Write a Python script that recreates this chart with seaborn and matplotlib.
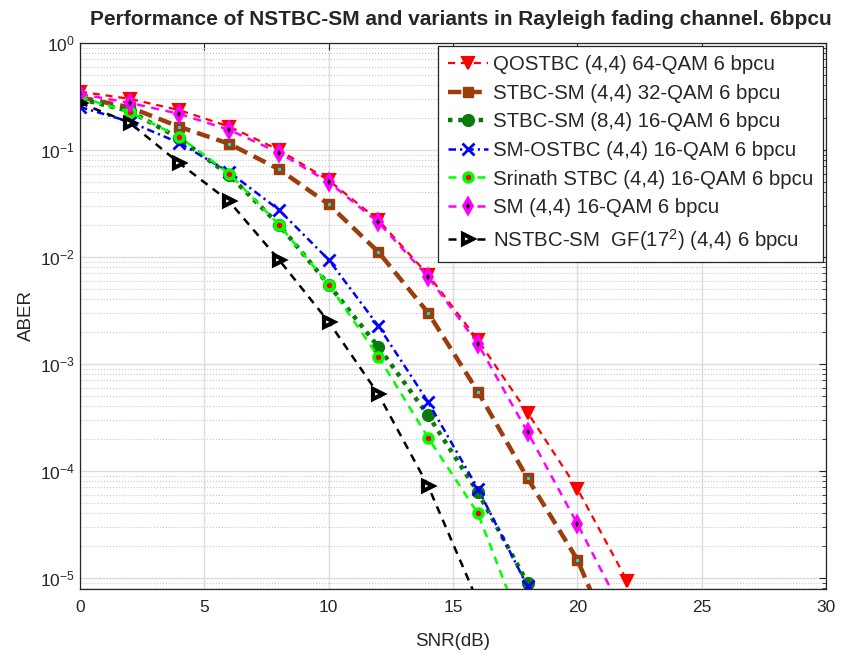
import numpy as np
import pandas as pd
import matplotlib
matplotlib.use("Agg")
import matplotlib.pyplot as plt
import seaborn as sns
from matplotlib.ticker import LogLocator, NullFormatter, MultipleLocator

sns.set_style("white")
plt.rcParams['font.family'] = ['Liberation Sans', 'DejaVu Sans']
plt.rcParams['mathtext.fontset'] = 'custom'
plt.rcParams['mathtext.rm'] = 'Liberation Sans'
plt.rcParams['mathtext.it'] = 'Liberation Sans:italic'

snr = [0, 2, 4, 6, 8, 10, 12, 14, 16, 18, 20, 22]

qostbc      = [0.35, 0.30, 0.235, 0.165, 0.10, 0.052, 0.022, 6.8e-3, 1.67e-3, 3.5e-4, 6.8e-5, 9.4e-6]
stbcsm_32   = [0.31, 0.25, 0.164, 0.114, 0.066, 0.031, 0.0111, 3.0e-3, 5.5e-4, 8.5e-5, 1.48e-5, 1.2e-6]
stbcsm_84   = [0.30, 0.23, 0.128, 0.058, 0.020, 5.5e-3, 1.44e-3, 3.3e-4, 6.3e-5, 8.9e-6]
sm_ostbc    = [0.252, 0.183, 0.116, 0.062, 0.0275, 9.4e-3, 2.26e-3, 4.4e-4, 6.8e-5, 8.3e-6]
srinath     = [0.31, 0.226, 0.132, 0.060, 0.020, 5.5e-3, 1.17e-3, 2.04e-4, 4.0e-5, 2.5e-6]
sm_16       = [0.333, 0.275, 0.217, 0.154, 0.094, 0.050, 0.021, 6.5e-3, 1.54e-3, 2.3e-4, 3.2e-5, 4e-6]
nstbc_sm    = [0.275, 0.179, 0.075, 0.033, 9.4e-3, 2.47e-3, 5.2e-4, 7.2e-5, 6e-6]

labels = [
    "QOSTBC (4,4) 64-QAM 6 bpcu",
    "STBC-SM (4,4) 32-QAM 6 bpcu",
    "STBC-SM (8,4) 16-QAM 6 bpcu",
    "SM-OSTBC (4,4) 16-QAM 6 bpcu",
    "Srinath STBC (4,4) 16-QAM 6 bpcu",
    "SM (4,4) 16-QAM 6 bpcu",
    "NSTBC-SM  GF(17$^2$) (4,4) 6 bpcu",
]
series = [qostbc, stbcsm_32, stbcsm_84, sm_ostbc, srinath, sm_16, nstbc_sm]

dash = (0, (3.2, 2.6))
styles = [
    dict(color='#ff0000', linestyle=dash, linewidth=1.6, marker='v', markersize=8,
         markerfacecolor='#ff0000', markeredgecolor='#ff0000', markeredgewidth=1.5),
    dict(color='#9c3d0c', linestyle=(0, (3.0, 1.6)), linewidth=3.2, marker='s', markersize=7,
         markerfacecolor='#9c3d0c', markeredgecolor='#9c3d0c', markeredgewidth=1),
    dict(color='#0a7a0a', linestyle=(0, (1, 1.3)), linewidth=3.2, marker='o', markersize=8.5,
         markerfacecolor='#0a7a0a', markeredgecolor='#0a7a0a', markeredgewidth=1),
    dict(color='#0000ff', linestyle=(0, (3, 1.6, 0.9, 1.6)), linewidth=1.8, marker='x', markersize=8,
         markerfacecolor='#0000ff', markeredgecolor='#0000ff', markeredgewidth=2),
    dict(color='#00ff00', linestyle=dash, linewidth=1.8, marker='o', markersize=6.5,
         markerfacecolor='#ff0000', markeredgecolor='#00ff00', markeredgewidth=2.5),
    dict(color='#ff00ff', linestyle=dash, linewidth=1.8, marker='d', markersize=7.5,
         markerfacecolor='black', markeredgecolor='#ff00ff', markeredgewidth=2.6),
    dict(color='black', linestyle=dash, linewidth=1.8, marker='>', markersize=6.5,
         markerfacecolor='white', markeredgecolor='black', markeredgewidth=3.0),
]

fig = plt.figure(figsize=(8.51, 6.6), dpi=100)
ax = fig.add_axes([0.094, 0.108, 0.8766, 0.827])
ax.set_yscale('log')

for lab, vals, st in zip(labels, series, styles):
    df = pd.DataFrame({'SNR': snr[:len(vals)], 'ABER': vals})
    sns.lineplot(data=df, x='SNR', y='ABER', ax=ax, label=lab, **st)
    if lab.startswith("STBC-SM (4,4)"):
        sns.lineplot(data=df, x='SNR', y='ABER', ax=ax, linestyle='none', marker='s',
                     markersize=2, markerfacecolor='#00e5ee', markeredgecolor='#00e5ee',
                     color='#00e5ee', legend=False)

ax.set_xlim(0, 30)
ax.set_ylim(7.9e-6, 1)
ax.xaxis.set_major_locator(MultipleLocator(5))
ax.yaxis.set_major_locator(LogLocator(base=10, numticks=10))
ax.yaxis.set_minor_locator(LogLocator(base=10, subs=np.arange(2, 10), numticks=20))
ax.yaxis.set_minor_formatter(NullFormatter())

ax.grid(True, which='major', axis='both', color='#dcdcdc', linewidth=1.0, linestyle='-')
ax.grid(True, which='minor', axis='y', color='#c8c8c8', linewidth=0.8, linestyle=':')
ax.set_axisbelow(True)

ax.tick_params(axis='both', which='both', direction='in', top=True, right=True,
               labelsize=12.5, colors='#262626')
ax.tick_params(axis='x', which='major', pad=8)
ax.tick_params(axis='both', which='major', length=5)
ax.tick_params(axis='both', which='minor', length=3)
for sp in ax.spines.values():
    sp.set_color('#262626')
    sp.set_linewidth(0.9)

ax.set_xlabel('SNR(dB)', fontsize=13.5, color='#262626', labelpad=13)
ax.set_ylabel('ABER', fontsize=13.5, color='#262626', labelpad=4)
ax.set_title('Performance of NSTBC-SM and variants in Rayleigh fading channel. 6bpcu',
             fontsize=15, fontweight='bold', pad=13, x=0.51)

leg = ax.legend(loc='upper right', fontsize=14.7, frameon=True, fancybox=False,
                edgecolor='#262626', framealpha=1, labelspacing=0.47,
                handlelength=2.0, handletextpad=0.25, borderaxespad=0.15,
                borderpad=0.45)
leg.get_frame().set_linewidth(0.9)

fig.savefig('out.png', dpi=100)
